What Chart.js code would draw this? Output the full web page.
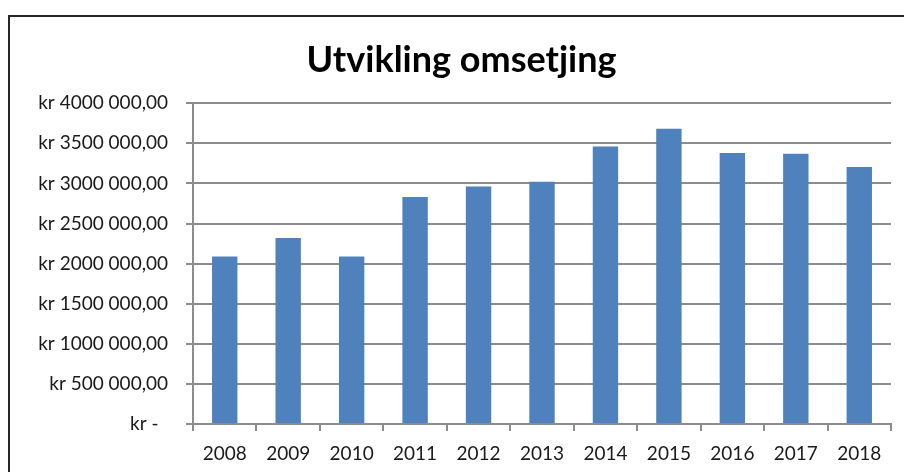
<!DOCTYPE html>
<html lang="no">
<head>
<meta charset="UTF-8">
<title>Utvikling omsetjing</title>
<script src="https://cdn.jsdelivr.net/npm/chart.js"></script>
<style>
    html, body { margin: 0; padding: 0; background: #fff; }
    body { width: 904px; height: 472px; overflow: hidden; position: relative; }
    .ramme {
        position: absolute;
        left: 8px;
        top: 15px;
        width: 896px;
        height: 457px;
        border-left: 2px solid #262626;
        border-top: 2px solid #262626;
    }
    .ramme canvas { display: block; }
</style>
</head>
<body>
<div class="ramme"><canvas id="omsetning"></canvas></div>

<script>
    // år og omsetning (lest av figuren)
    const aar = ["2008", "2009", "2010", "2011", "2012", "2013", "2014", "2015", "2016", "2017", "2018"];
    const omsetning = [2090000, 2320000, 2090000, 2830000, 2960000, 3020000, 3460000, 3680000, 3380000, 3370000, 3205000];

    // tekst på y-aksen, nedenfra
    const yEtiketter = ["kr -\u2002", "kr 500 000,00", "kr 1000 000,00", "kr 1500 000,00", "kr 2000 000,00",
        "kr 2500 000,00", "kr 3000 000,00", "kr 3500 000,00", "kr 4000 000,00"];

    const blaa = "#4f81bd";
    const graa = "#8c8c8c";
    const tekst = "#1a1a1a";

    new Chart(document.getElementById("omsetning"), {
        type: "bar",
        data: {
            labels: aar,
            datasets: [{
                data: omsetning,
                backgroundColor: blaa,
                categoryPercentage: 1,
                barPercentage: 0.4
            }]
        },
        options: {
            responsive: true,
            maintainAspectRatio: false,
            animation: false,
            // venstre-padding flytter tittelen litt mot høyre som i Excel
            layout: { padding: { left: 22, right: 15, top: 0, bottom: 0 } },
            plugins: {
                legend: { display: false },
                tooltip: { enabled: false },
                title: {
                    display: true,
                    text: "Utvikling omsetjing",
                    color: "#000",
                    font: { family: "Lato", size: 36, weight: "bold" },
                    padding: { top: 22, bottom: 21 }
                }
            },
            scales: {
                x: {
                    afterFit: s => { s.height = 50; },
                    grid: {
                        offset: true,
                        drawOnChartArea: false,
                        drawTicks: true,
                        tickLength: 7,
                        color: graa,
                        lineWidth: 2
                    },
                    border: { display: true, color: graa, width: 2 },
                    ticks: {
                        color: tekst,
                        padding: 11,
                        font: { family: "Lato", size: 19 }
                    }
                },
                y: {
                    min: 0,
                    max: 4000000,
                    afterFit: s => { s.width = 161; },
                    grid: {
                        color: graa,
                        lineWidth: 2,
                        drawTicks: true,
                        tickLength: 7
                    },
                    border: { display: true, color: graa, width: 2 },
                    ticks: {
                        stepSize: 500000,
                        color: tekst,
                        padding: 18,
                        font: { family: "Lato", size: 19 },
                        callback: (v, i) => yEtiketter[i]
                    }
                }
            }
        }
    });
</script>
</body>
</html>
